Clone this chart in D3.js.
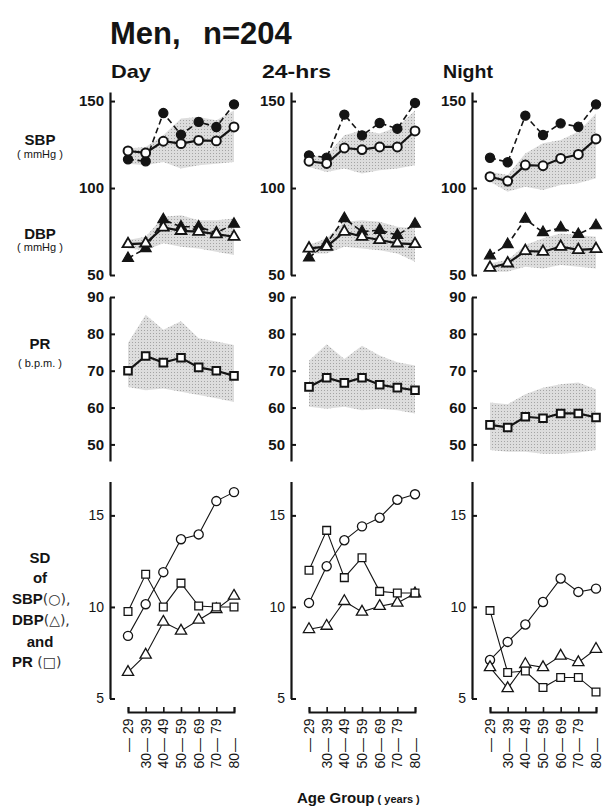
<!DOCTYPE html>
<html><head><meta charset="utf-8">
<script src="https://cdn.jsdelivr.net/npm/d3@7"></script>
<style>body{margin:0;background:#fff;} svg{display:block;}</style>
</head><body><svg id="c" width="610" height="809"></svg>
<script>
// ---------------- DATA ----------------
const periods = ["Day", "24-hrs", "Night"];
const ageGroups = ["—29", "30—39", "40—49", "50—59", "60—69", "70—79", "80—"];
const ageLow  = ["", "30", "40", "50", "60", "70", "80"];
const ageHigh = ["29", "39", "49", "59", "69", "79", ""];

// SBP (mmHg): casual (filled circles, dashed) and ambulatory (open circles)
const sbpCasual = [
  [116.5, 115.4, 143.1, 130.7, 138.0, 135.1, 148.1],
  [118.8, 117.5, 142.2, 130.3, 137.4, 134.1, 148.9],
  [117.4, 114.8, 141.6, 130.5, 137.2, 135.2, 148.1]
];
const sbpAmb = [
  [121.3, 120.2, 126.9, 125.5, 127.4, 127.1, 135.1],
  [115.4, 114.1, 123.0, 122.1, 123.6, 123.6, 132.8],
  [106.5, 104.0, 113.2, 112.8, 117.0, 119.3, 128.2]
];
const sbpBandHi = [
  [122.7, 123.6, 130.3, 139.9, 140.8, 138.9, 144.6],
  [118.3, 118.8, 130.3, 133.2, 131.3, 135.1, 144.6],
  [109.4, 107.5, 119.9, 125.7, 127.6, 132.4, 142.9]
];
const sbpBandLo = [
  [114.0, 113.1, 115.0, 111.2, 113.1, 114.0, 115.0],
  [112.1, 109.2, 111.2, 108.3, 110.2, 111.2, 113.1],
  [103.6, 97.9, 100.8, 98.9, 101.7, 102.7, 105.6]
];
// DBP (mmHg)
const dbpCasual = [
  [59.6, 65.3, 81.9, 77.7, 77.7, 74.3, 79.3],
  [59.9, 68.2, 82.5, 74.9, 75.8, 72.9, 79.3],
  [61.1, 67.6, 82.2, 74.5, 77.2, 73.4, 78.4]
];
const dbpAmb = [
  [67.8, 68.2, 77.3, 75.4, 74.9, 73.5, 72.0],
  [65.3, 66.3, 74.9, 72.0, 70.1, 68.2, 67.8],
  [54.2, 56.7, 63.8, 63.4, 66.3, 64.4, 65.0]
];
const dbpBandHi = [
  [70.1, 72.0, 83.5, 84.4, 81.5, 81.5, 82.5],
  [67.2, 71.1, 80.6, 81.5, 80.6, 77.7, 76.8],
  [56.7, 58.6, 67.2, 71.1, 73.9, 73.0, 72.0]
];
const dbpBandLo = [
  [65.3, 64.3, 68.2, 66.3, 65.3, 63.4, 61.5],
  [62.4, 62.4, 66.3, 65.3, 64.3, 62.4, 57.6],
  [51.9, 51.9, 54.8, 53.8, 55.7, 54.8, 53.8]
];
// PR (b.p.m.)
const prAmb = [
  [70.0, 74.0, 72.2, 73.5, 70.9, 70.0, 68.6],
  [65.6, 68.1, 66.7, 68.1, 66.2, 65.4, 64.7],
  [55.3, 54.6, 57.5, 57.1, 58.4, 58.4, 57.3]
];
const prBandHi = [
  [77.5, 85.2, 81.1, 83.4, 78.8, 77.9, 77.0],
  [72.7, 77.2, 73.2, 76.8, 74.1, 72.3, 71.4],
  [61.4, 60.9, 63.6, 65.4, 66.3, 66.8, 65.0]
];
const prBandLo = [
  [65.6, 64.7, 65.2, 64.3, 63.4, 62.5, 61.5],
  [60.2, 59.7, 60.2, 59.3, 59.7, 59.3, 58.4],
  [48.5, 48.0, 48.0, 47.5, 47.5, 47.8, 48.5]
];
// SD of SBP (circles), DBP (triangles), PR (squares)
const sdSbp = [
  [8.42, 10.15, 11.9, 13.7, 13.96, 15.78, 16.27],
  [10.22, 12.22, 13.64, 14.4, 14.87, 15.85, 16.15],
  [7.1, 8.09, 9.04, 10.27, 11.55, 10.82, 11.0]
];
const sdDbp = [
  [6.44, 7.38, 9.18, 8.69, 9.29, 9.87, 10.6],
  [8.78, 8.96, 10.31, 9.73, 10.04, 10.22, 10.73],
  [6.7, 5.55, 6.87, 6.7, 7.33, 6.97, 7.7]
];
const sdPr = [
  [9.75, 11.78, 10.0, 11.3, 10.05, 10.0, 10.0],
  [12.0, 14.18, 11.6, 12.69, 10.85, 10.76, 10.76],
  [9.8, 6.42, 6.5, 5.6, 6.15, 6.15, 5.36]
];
const bpTicks = [50, 100, 150];
const prTicks = [50, 60, 70, 80, 90];
const sdTicks = [5, 10, 15];

// ---------------- DRAW ----------------
const svg = d3.select("#c");
const INK = "#141414";
const NUMF = "'Liberation Sans Narrow','Arial Narrow','Liberation Sans',sans-serif";
const SANS = "'Liberation Sans',Arial,sans-serif";

const defs = svg.append("defs");
const pat = defs.append("pattern").attr("id", "stip").attr("width", 3).attr("height", 3)
  .attr("patternUnits", "userSpaceOnUse");
pat.append("rect").attr("width", 3).attr("height", 3).attr("fill", "#dddddd");
pat.append("rect").attr("width", 1).attr("height", 1).attr("fill", "#a4a4a4");

const axisX = [110, 291, 472];
const titleX = [111, 262, 443];
const titleW = [40, 69, 50];
const yBP = d3.scaleLinear().domain([50, 155.2]).range([275, 92]);
const yPR = d3.scaleLinear().domain([45.5, 90]).range([461, 297]);
const ySD = d3.scaleLinear().domain([5, 16.85]).range([698.5, 481.5]);

const sym = (type, size) => d3.symbol().type(type).size(size)();

function yAxis(g, scale, ticks) {
  g.call(d3.axisLeft(scale).tickValues(ticks).tickSize(-5).tickSizeOuter(0).tickPadding(6));
  g.select(".domain").attr("stroke", INK).attr("stroke-width", 2.2);
  g.selectAll(".tick line").attr("stroke", INK).attr("stroke-width", 2);
  g.selectAll(".tick text").attr("fill", INK).attr("font-family", NUMF)
    .attr("font-size", 15).attr("font-weight", "bold");
}

periods.forEach((p, i) => {
  const ax = axisX[i];
  const x = d3.scalePoint().domain(ageGroups).range([ax + 18, ax + 124]);
  const g = svg.append("g");

  // Panel title
  g.append("text").attr("x", titleX[i]).attr("y", 78).text(p)
    .attr("textLength", titleW[i]).attr("lengthAdjust", "spacingAndGlyphs")
    .attr("font-family", SANS).attr("font-weight", "bold").attr("font-size", 19).attr("fill", INK);

  // ---- bands
  const area = (yS) => d3.area().x((d, j) => x(ageGroups[j])).y0(d => yS(d[0])).y1(d => yS(d[1]));
  g.append("path").datum(d3.zip(sbpBandLo[i], sbpBandHi[i])).attr("d", area(yBP)).attr("fill", "url(#stip)");
  g.append("path").datum(d3.zip(dbpBandLo[i], dbpBandHi[i])).attr("d", area(yBP)).attr("fill", "url(#stip)");
  g.append("path").datum(d3.zip(prBandLo[i], prBandHi[i])).attr("d", area(yPR)).attr("fill", "url(#stip)");

  const line = (yS) => d3.line().x((d, j) => x(ageGroups[j])).y(d => yS(d));

  function series(vals, yS, dashed, width, type, size, filled, sw) {
    g.append("path").datum(vals).attr("d", line(yS)).attr("fill", "none")
      .attr("stroke", INK).attr("stroke-width", width)
      .attr("stroke-dasharray", dashed ? "6,3.5" : null);
    g.selectAll(null).data(vals).join("path")
      .attr("d", sym(type, size))
      .attr("transform", (d, j) => `translate(${x(ageGroups[j])},${yS(d)})`)
      .attr("fill", filled ? INK : "#fff").attr("stroke", INK).attr("stroke-width", sw);
  }
  series(sbpCasual[i], yBP, true, 1.6, d3.symbolCircle, 66, true, 1.2);
  series(sbpAmb[i], yBP, false, 2.2, d3.symbolCircle, 62, false, 2);
  series(dbpCasual[i], yBP, true, 1.6, d3.symbolTriangle, 52, true, 1.2);
  series(dbpAmb[i], yBP, false, 2.2, d3.symbolTriangle, 52, false, 1.8);
  series(prAmb[i], yPR, false, 2.2, d3.symbolSquare, 58, false, 2);

  // ---- SD
  series(sdSbp[i], ySD, false, 1.1, d3.symbolCircle, 66, false, 1.3);
  series(sdDbp[i], ySD, false, 1.1, d3.symbolTriangle, 55, false, 1.3);
  series(sdPr[i], ySD, false, 1.1, d3.symbolSquare, 60, false, 1.3);

  // ---- axes
  yAxis(g.append("g").attr("transform", `translate(${ax},0)`), yBP, bpTicks);
  yAxis(g.append("g").attr("transform", `translate(${ax},0)`), yPR, prTicks);
  const sdA = g.append("g").attr("transform", `translate(${ax},0)`);
  yAxis(sdA, ySD, sdTicks);
  sdA.selectAll(".tick text").attr("font-weight", "normal").attr("font-size", 14);

  // bottom age axis
  const xa = g.append("g").attr("transform", `translate(0,712)`)
    .call(d3.axisBottom(x).tickSize(-5).tickSizeOuter(-5).tickFormat(""));
  xa.select(".domain").attr("stroke", INK).attr("stroke-width", 2);
  xa.selectAll(".tick line").attr("stroke", INK).attr("stroke-width", 1.6);

  // rotated age labels, aligned on the dash
  const lab = g.selectAll(null).data(ageGroups).join("g")
    .attr("transform", d => `translate(${x(d)},745) rotate(-90)`)
    .attr("font-family", NUMF).attr("font-size", 14).attr("fill", INK);
  lab.append("text").attr("text-anchor", "middle").attr("dy", "0.35em").text("—");
  lab.append("text").attr("x", -8).attr("text-anchor", "end").attr("dy", "0.35em")
    .text((d, j) => ageLow[j]);
  lab.append("text").attr("x", 11).attr("text-anchor", "start").attr("dy", "0.35em")
    .text((d, j) => ageHigh[j]);
});

// ---- Title
const t = svg.append("text").attr("y", 44).attr("font-family", SANS).attr("font-weight", "bold")
  .attr("font-size", 31).attr("fill", INK);
t.append("tspan").attr("x", 110).text("Men,");
t.append("tspan").attr("x", 203).text("n");
t.append("tspan").attr("x", 222).text("=204");

// ---- Left row labels
const lg = svg.append("g").attr("font-family", SANS).attr("fill", INK).attr("text-anchor", "middle");
function lbl(txt, y, size, weight) {
  lg.append("text").attr("x", 40).attr("y", y).text(txt).attr("font-size", size).attr("font-weight", weight);
}
lbl("SBP", 145, 15, "bold");
lbl("( mmHg )", 158, 11, "normal");
lbl("DBP", 239, 15, "bold");
lbl("( mmHg )", 251, 11, "normal");
lbl("PR", 349, 15, "bold");
lbl("( b.p.m. )", 367, 11, "normal");
lbl("SD", 563, 15, "bold");
lbl("of", 583, 15, "bold");
function mixed(y, a, b) {
  const tx = lg.append("text").attr("x", 12).attr("y", y).attr("text-anchor", "start");
  tx.append("tspan").text(a).attr("font-size", 15).attr("font-weight", "bold");
  tx.append("tspan").text(b).attr("font-size", 14).attr("font-family", "'DejaVu Sans',sans-serif")
    .attr("fill", "#333");
}
mixed(604, "SBP", "(○),");
mixed(625, "DBP", "(△),");
lbl("and", 646.5, 15, "bold");
mixed(667, "PR", "   (□)");

// ---- x title
const xt = svg.append("text").attr("x", 297).attr("y", 803).attr("font-family", SANS)
  .attr("font-weight", "bold").attr("fill", INK);
xt.append("tspan").text("Age Group").attr("font-size", 15);
xt.append("tspan").text(" ( years )").attr("font-size", 11);
</script></body></html>
